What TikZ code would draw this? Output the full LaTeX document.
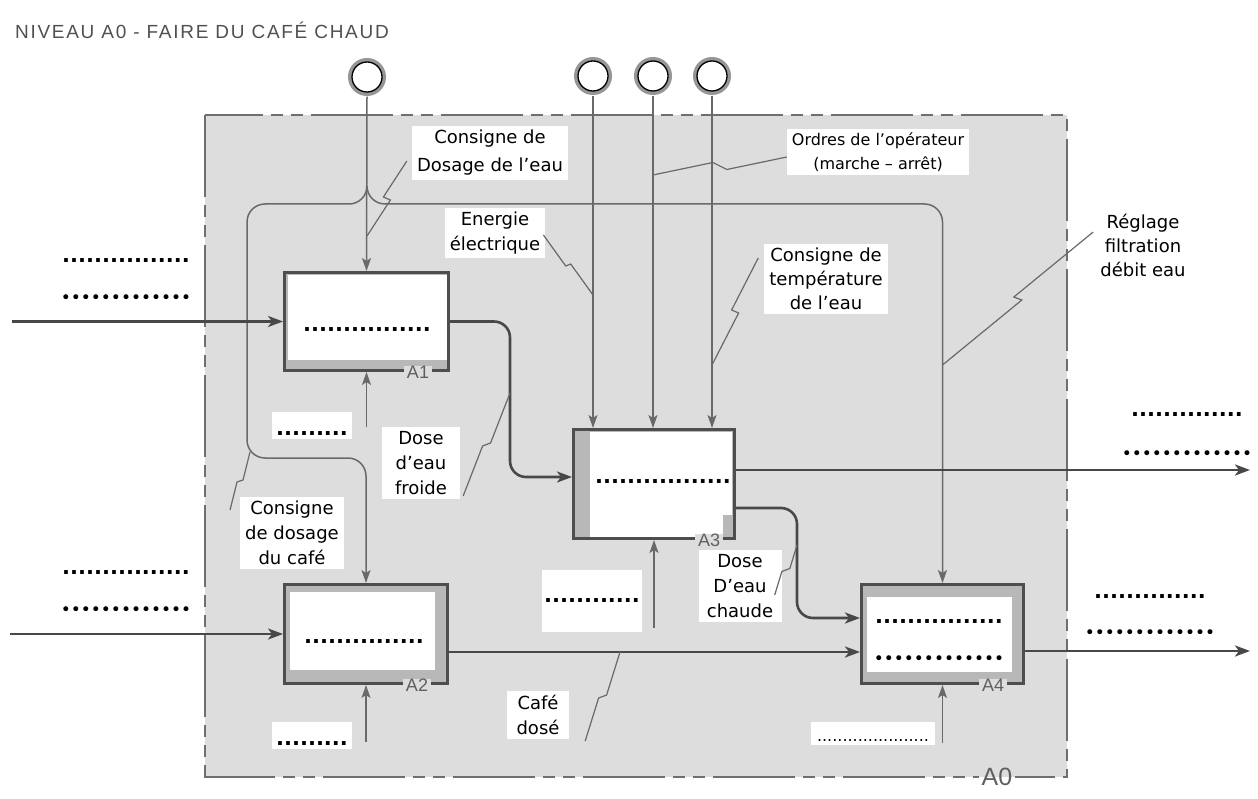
\documentclass[tikz,border=0pt]{standalone}
\usepackage{fontspec}
\usepackage{tikz}
\usetikzlibrary{calc, positioning, arrows.meta}
\newfontfamily\labfamily{DejaVu Sans}
\newfontfamily\idfamily{Liberation Sans}
\newfontfamily\titlefamily[LetterSpace=9]{Liberation Sans}
\definecolor{fondgris}{RGB}{221,221,221}
\definecolor{bande}{RGB}{184,184,184}
\definecolor{cadre}{RGB}{78,78,78}
\definecolor{wire}{RGB}{105,105,105}
\definecolor{flux}{RGB}{72,72,72}
\definecolor{idgris}{RGB}{95,95,95}
\definecolor{tirets}{RGB}{110,110,110}
\definecolor{anneau}{RGB}{150,150,150}
\definecolor{titre}{RGB}{80,80,80}
% ligne de renvoi avec petit crochet au milieu
\newcommand\squig[3]{\draw[zz] (#1) -- ($(#1)!.5!(#2)-(#3)$) -- ($(#1)!.5!(#2)+(#3)$) -- (#2);}

\begin{document}
\begin{tikzpicture}[x=1pt, y=-1pt,
  act/.style={rectangle, draw=cadre, line width=3pt, fill=bande, inner sep=0pt},
  lab/.style={rectangle, fill=white, align=center, inner xsep=5pt, inner ysep=4pt,
    font=\labfamily\fontsize{18}{25}\selectfont},
  sq/.style={inner sep=0pt, font=\labfamily\bfseries\fontsize{21}{21}\selectfont},
  rd/.style={inner sep=0pt, font=\labfamily\fontsize{17}{17}\selectfont},
  mch/.style={sq, fill=white, text height=22pt, text depth=3pt,
    inner xsep=4pt, inner ysep=1pt, anchor=base},
  tag/.style={fill=fondgris, text=idgris, inner xsep=3pt, inner ysep=0pt,
    font=\idfamily\fontsize{18}{18}\selectfont},
  src/.style={circle, draw=black, line width=1.3pt, fill=white, minimum size=30pt,
    inner sep=0pt, preaction={draw=anneau, line width=8pt}},
  ctl/.style={wire, line width=1.5pt, -{Stealth[length=13pt, width=9pt, inset=3pt]}},
  flo/.style={flux, line width=2.6pt, -{Stealth[length=15pt, width=11pt, inset=4pt]}},
  zz/.style={wire, line width=1.2pt},
  frontiere/.style={draw=tirets, line width=2pt, fill=fondgris,
    dash pattern=on 82pt off 8pt on 12pt off 8pt on 12pt off 8pt}
]
\fill[white] (0,0) rectangle (1258,799);
\useasboundingbox (0,0) rectangle (1258,799);

%% ── Titre et cadre A0 ────────────────────────────────────────────────
\node[anchor=west, text=titre, inner sep=0pt,
  font=\titlefamily\fontsize{19}{19}\selectfont] (TIT) at (15,30)
  {NIVEAU A0 - FAIRE DU CAFÉ CHAUD};
\draw[frontiere] (205,115) rectangle (1067,777);
\node[tag, fill=white, font=\idfamily\fontsize{25}{25}\selectfont,
  path picture={\fill[fondgris] (path picture bounding box.north west)
    rectangle (path picture bounding box.east);}] (T0) at (997,777) {A0};

%% ── Activités ────────────────────────────────────────────────────────
\node[act, minimum width=164pt, minimum height=98pt]  (A1) at (366.5,321.5) {};
\node[act, minimum width=163pt, minimum height=99pt]  (A2) at (366,634) {};
\node[act, minimum width=161pt, minimum height=109pt] (A3) at (654,484) {};
\node[act, minimum width=162pt, minimum height=99pt]  (A4) at (942.5,634) {};

\fill[white] ($(A1.north west)+(5,4)$) rectangle ($(A1.south east)+(-3,-12)$);
\fill[white] ($(A2.north west)+(7,9)$) rectangle ($(A2.south east)+(-14,-15)$);
\fill[white] ($(A3.north west)+(18,4)$) rectangle ($(A3.south east)+(-4,-25)$);
\fill[white] ($(A3.south west)+(18,-3)$) rectangle ($(A3.south east)+(-13,-25)$);
\fill[white] ($(A4.north west)+(7,14)$) rectangle ($(A4.south east)+(-13,-13)$);

\node[sq] (D1)  at (367,330) {................};
\node[sq] (D2)  at (364,642) {...............};
\node[sq] (D3)  at (663,482) {.................};
\node[sq] (D4a) at (939,622) {................};
\node[rd] (D4b) at (939,660) {•••••••••••••};

\node[tag] (T1) at ($(A1.south east)+(-32,0)$) {A1};
\node[tag] (T2) at ($(A2.south east)+(-32,0)$) {A2};
\node[tag] (T3) at ($(A3.south east)+(-27,0)$) {A3};
\node[tag] (T4) at ($(A4.south east)+(-32,0)$) {A4};

%% ── Contrôles (haut) ─────────────────────────────────────────────────
\node[src] (C1) at (367,77) {};
\node[src] (C2) at (593,76) {};
\node[src] (C3) at (653,76) {};
\node[src] (C4) at (712,76) {};

\draw[ctl] ($(C1.south)+(0,4)$) -- (A1.north);
\draw[ctl] ($(C2.south)+(0,4)$) -- (C2 |- A3.north);
\draw[ctl] ($(C3.south)+(0,4)$) -- (C3 |- A3.north);
\draw[ctl] ($(C4.south)+(0,4)$) -- (C4 |- A3.north);

\coordinate (BJ) at (367,186);
\coordinate (BG) at (247,204);
\coordinate (BD) at (942.5,204);
\draw[ctl, rounded corners=18pt] (BJ) |- (BG) |- ($(A2.north)+(0,-125)$) -- (A2.north);
\draw[ctl, rounded corners=18pt] (BJ) |- (BD) -- (A4.north);

%% ── Entrées / sorties ────────────────────────────────────────────────
\coordinate (E1) at (12,321.5);
\coordinate (E2) at (10,634);
\coordinate (S3) at (1250,470);
\coordinate (S4) at (1250,651);
\draw[flo, line width=2.2pt] (E1) -- (A1.west);
\draw[flo, line width=2.2pt] (E2) -- (A2.west);
\draw[flo, rounded corners=16pt] (A1.east) -| ($(A3.west)+(-62,-7)$) -- ($(A3.west)+(0,-7)$);
\draw[flo] ($(A3.east)+(0,-14)$) -- (S3);
\draw[flo, rounded corners=16pt] ($(A3.east)+(0,24)$) -| ($(A4.west)+(-63,-16)$) -- ($(A4.west)+(0,-16)$);
\draw[flo] ($(A2.east)+(0,18)$) -- ($(A4.west)+(0,18)$);
\draw[flo] ($(A4.east)+(0,17)$) -- (S4);

%% ── Mécanismes (bas) ─────────────────────────────────────────────────
\coordinate (M1) at (366.5,427);
\coordinate (M2) at (366,742);
\coordinate (M3) at (654,628);
\coordinate (M4) at (942.5,743);
\draw[ctl] (M1) -- (A1.south);
\draw[ctl] (M2) -- (A2.south);
\draw[ctl] (M3) -- (A3.south);
\draw[ctl] (M4) -- (A4.south);

\node[mch] (M1t) at (312,435) {.........};
\node[mch] (M2t) at (312,745) {.........};
\node[sq, fill=white, minimum width=100pt, minimum height=62pt] (M3t) at (592,601) {............};
\node[fill=white, text height=18pt, text depth=3pt, inner xsep=6pt, inner ysep=1pt,
  anchor=base, font=\labfamily\fontsize{16}{16}\selectfont] (M4t) at (873,741)
  {......................};

%% ── Champs à compléter ───────────────────────────────────────────────
\node[sq] (I1a) at (126,261)  {................};
\node[rd] (I1b) at (126,299)  {•••••••••••••};
\node[sq] (I2a) at (126,573)  {................};
\node[rd] (I2b) at (126,611)  {•••••••••••••};
\node[sq] (O3a) at (1187,415) {..............};
\node[rd] (O3b) at (1187,455) {•••••••••••••};
\node[sq] (O4a) at (1150,597) {..............};
\node[rd] (O4b) at (1150,634) {•••••••••••••};

%% ── Étiquettes ───────────────────────────────────────────────────────
\node[lab, font=\labfamily\fontsize{18}{28}\selectfont] (LDE) at (490,153)
  {Consigne de\\Dosage de l’eau};
\node[lab] (LEN) at (495,233) {Energie\\électrique};
\node[lab, font=\labfamily\fontsize{16}{24}\selectfont] (LOR) at (878,152)
  {Ordres de l’opérateur\\(marche – arrêt)};
\node[lab, font=\labfamily\fontsize{18}{24}\selectfont] (LTE) at (826,279)
  {Consigne de\\température\\de l’eau};
\node[lab, font=\labfamily\fontsize{18}{24}\selectfont] (LRE) at (1143,245)
  {Réglage\\filtration\\débit eau};
\node[lab, minimum width=78pt] (LFR) at (421,463) {Dose\\d’eau\\froide};
\node[lab] (LCA) at (292,533) {Consigne\\de dosage\\du café};
\node[lab, minimum width=83pt] (LCH) at (740,586) {Dose\\D’eau\\chaude};
\node[lab, minimum width=62pt] (LCD) at (538,715) {Café\\dosé};

%% ── Renvois ──────────────────────────────────────────────────────────
\coordinate (kDE) at (367,236);
\coordinate (kEN) at (593,295);
\coordinate (kOR) at (653,175);
\coordinate (kTE) at (712,365);
\coordinate (kRE) at (942.5,365);
\coordinate (kFR) at (510,393);
\coordinate (kCA) at (250,452);
\coordinate (kCH) at (797,545);
\coordinate (kCD) at (620,652);

\coordinate (zDE) at ($(LDE.west)+(-5,8)$);
\coordinate (zEN) at ($(LEN.east)+(-2,2)$);
\coordinate (zOR) at ($(LOR.west)+(0,5)$);
\coordinate (zTE) at ($(LTE.west)+(-6,-21)$);
\coordinate (zRE) at ($(LRE.west)+(-2,-13)$);
\coordinate (zFR) at ($(LFR.south east)+(3,-3)$);
\coordinate (zCA) at ($(LCA.west)+(-10,-23)$);
\coordinate (zCH) at ($(LCH.east)+(-7,9)$);
\coordinate (zCD) at ($(LCD.south east)+(16,2)$);

\squig{zDE}{kDE}{3.5,1.5}
\squig{zEN}{kEN}{2.5,-1}
\squig{zOR}{kOR}{-7,-3.5}
\squig{zTE}{kTE}{3.5,1.5}
\squig{zRE}{kRE}{4,1.5}
\squig{zFR}{kFR}{4,-1.5}
\squig{zCA}{kCA}{3,-1}
\squig{zCH}{kCH}{4,-1.5}
\squig{zCD}{kCD}{4,-1.5}

\end{tikzpicture}
\end{document}
